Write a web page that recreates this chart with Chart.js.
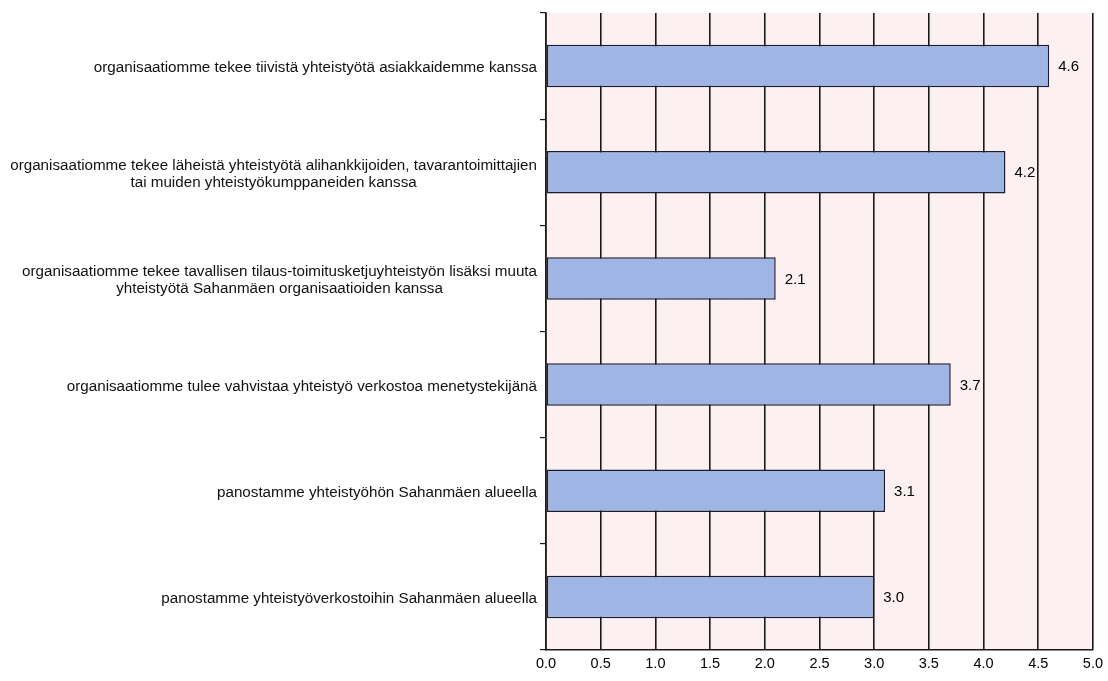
<!DOCTYPE html>
<html>
<head>
<meta charset="utf-8">
<script src="https://cdn.jsdelivr.net/npm/chart.js@4.4.1/dist/chart.umd.min.js"></script>
<style>
  html, body { margin: 0; padding: 0; background: #fff; }
  #wrap { width: 1108px; height: 681px; }
</style>
</head>
<body>
<div id="wrap"><canvas id="yhteistyoChart" width="1108" height="681"></canvas></div>
<script>
const labels = [
    ['organisaatiomme tekee tiivistä yhteistyötä asiakkaidemme kanssa'],
    ['organisaatiomme tekee läheistä yhteistyötä alihankkijoiden, tavarantoimittajien', 'tai muiden yhteistyökumppaneiden kanssa'],
    ['organisaatiomme tekee tavallisen tilaus-toimitusketjuyhteistyön lisäksi muuta', 'yhteistyötä Sahanmäen organisaatioiden kanssa'],
    ['organisaatiomme tulee vahvistaa yhteistyö verkostoa menetystekijänä'],
    ['panostamme yhteistyöhön Sahanmäen alueella'],
    ['panostamme yhteistyöverkostoihin Sahanmäen alueella']
];
const values = [4.6, 4.2, 2.1, 3.7, 3.1, 3.0];
const xTicks = [0, 0.5, 1, 1.5, 2, 2.5, 3, 3.5, 4, 4.5, 5];

const labelFont = '15.2px "Liberation Sans", Arial, sans-serif';
const tickFont = { family: '"Liberation Sans", Arial, sans-serif', size: 14.5 };

// pink plot background
const plotBg = {
    id: 'plotBg',
    beforeDraw(chart) {
        const { ctx, chartArea: a } = chart;
        ctx.save();
        ctx.fillStyle = '#fcf0f0';
        ctx.fillRect(a.left, a.top, a.right - a.left, a.bottom - a.top);
        ctx.restore();
    }
};

// category names: lines centred on each other, block right-aligned to the axis
const categoryText = {
    id: 'categoryText',
    afterDraw(chart) {
        const { ctx } = chart;
        const y = chart.scales.y;
        const rightEdge = y.right - 9;
        ctx.save();
        ctx.font = labelFont;
        ctx.fillStyle = '#111';
        ctx.textAlign = 'center';
        ctx.textBaseline = 'middle';
        const lineH = 17;
        labels.forEach((lines, i) => {
            const cy = y.getPixelForValue(i);
            const w = Math.max(...lines.map(l => ctx.measureText(l).width));
            const cx = rightEdge - w / 2;
            lines.forEach((l, j) => {
                ctx.fillText(l, cx, cy + (j - (lines.length - 1) / 2) * lineH + 2);
            });
        });
        ctx.restore();
    }
};

// value next to each bar end
const valueText = {
    id: 'valueText',
    afterDatasetsDraw(chart) {
        const { ctx } = chart;
        const meta = chart.getDatasetMeta(0);
        ctx.save();
        ctx.font = '15px "Liberation Sans", Arial, sans-serif';
        ctx.fillStyle = '#000';
        ctx.textAlign = 'left';
        ctx.textBaseline = 'middle';
        meta.data.forEach((bar, i) => {
            ctx.fillText(values[i].toFixed(1), bar.x + 9, bar.y + 1);
        });
        ctx.restore();
    }
};

new Chart(document.getElementById('yhteistyoChart'), {
    type: 'bar',
    data: {
        labels: labels.map(l => l.join(' ')),
        datasets: [{
            data: values,
            backgroundColor: '#9fb5e4',
            borderColor: '#1c1c30',
            borderWidth: 1.5,
            borderSkipped: false,
            barPercentage: 0.4,
            categoryPercentage: 1
        }]
    },
    options: {
        indexAxis: 'y',
        responsive: false,
        animation: false,
        layout: { padding: { top: 13, right: 9, left: 0, bottom: 0 } },
        plugins: { legend: { display: false }, tooltip: { enabled: false } },
        scales: {
            x: {
                min: 0,
                max: 5,
                afterBuildTicks(scale) { scale.ticks = xTicks.map(v => ({ value: v })); },
                afterFit(scale) { scale.height = 31; },
                ticks: {
                    font: tickFont,
                    color: '#000',
                    padding: 5,
                    callback: v => Number(v).toFixed(1)
                },
                grid: { color: '#1a1a1a', lineWidth: 1.6, drawTicks: false },
                border: { color: '#1a1a1a', width: 1.6 }
            },
            y: {
                afterFit(scale) { scale.width = 546; },
                ticks: { display: false },
                grid: {
                    offset: true,
                    drawOnChartArea: false,
                    drawTicks: true,
                    tickLength: 6,
                    color: '#1a1a1a',
                    lineWidth: 1.2
                },
                border: { color: '#1a1a1a', width: 1.6 }
            }
        }
    },
    plugins: [plotBg, categoryText, valueText]
});
</script>
</body>
</html>
